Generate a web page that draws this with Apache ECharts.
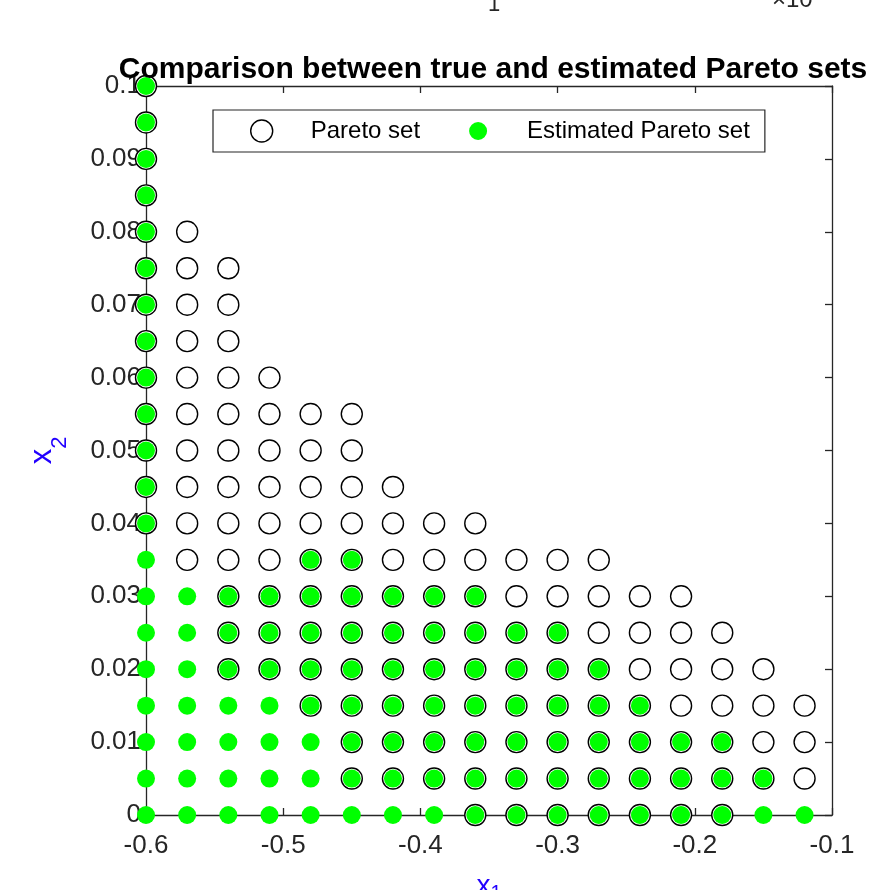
<!DOCTYPE html>
<html>
<head>
<meta charset="utf-8">
<script src="https://cdn.jsdelivr.net/npm/echarts@6/dist/echarts.min.js"></script>
<style>html,body{margin:0;padding:0;background:#fff;}#c{width:870px;height:890px;}</style>
</head>
<body>
<div id="c"></div>
<script>
// ---- data ----
const titleText = 'Comparison between true and estimated Pareto sets';
const seriesNames = ['Pareto set', 'Estimated Pareto set'];
// rows: [x2 value, list of x1 values]
const paretoRows = [
  [0.100, [-0.60]],
  [0.095, [-0.60]],
  [0.090, [-0.60]],
  [0.085, [-0.60]],
  [0.080, [-0.60, -0.57]],
  [0.075, [-0.60, -0.57, -0.54]],
  [0.070, [-0.60, -0.57, -0.54]],
  [0.065, [-0.60, -0.57, -0.54]],
  [0.060, [-0.60, -0.57, -0.54, -0.51]],
  [0.055, [-0.60, -0.57, -0.54, -0.51, -0.48, -0.45]],
  [0.050, [-0.60, -0.57, -0.54, -0.51, -0.48, -0.45]],
  [0.045, [-0.60, -0.57, -0.54, -0.51, -0.48, -0.45, -0.42]],
  [0.040, [-0.60, -0.57, -0.54, -0.51, -0.48, -0.45, -0.42, -0.39, -0.36]],
  [0.035, [-0.57, -0.54, -0.51, -0.48, -0.45, -0.42, -0.39, -0.36, -0.33, -0.30, -0.27]],
  [0.030, [-0.54, -0.51, -0.48, -0.45, -0.42, -0.39, -0.36, -0.33, -0.30, -0.27, -0.24, -0.21]],
  [0.025, [-0.54, -0.51, -0.48, -0.45, -0.42, -0.39, -0.36, -0.33, -0.30, -0.27, -0.24, -0.21, -0.18]],
  [0.020, [-0.54, -0.51, -0.48, -0.45, -0.42, -0.39, -0.36, -0.33, -0.30, -0.27, -0.24, -0.21, -0.18, -0.15]],
  [0.015, [-0.48, -0.45, -0.42, -0.39, -0.36, -0.33, -0.30, -0.27, -0.24, -0.21, -0.18, -0.15, -0.12]],
  [0.010, [-0.45, -0.42, -0.39, -0.36, -0.33, -0.30, -0.27, -0.24, -0.21, -0.18, -0.15, -0.12]],
  [0.005, [-0.45, -0.42, -0.39, -0.36, -0.33, -0.30, -0.27, -0.24, -0.21, -0.18, -0.15, -0.12]],
  [0.000, [-0.36, -0.33, -0.30, -0.27, -0.24, -0.21, -0.18]]
];
const estimatedRows = [
  [0.100, [-0.60]],
  [0.095, [-0.60]],
  [0.090, [-0.60]],
  [0.085, [-0.60]],
  [0.080, [-0.60]],
  [0.075, [-0.60]],
  [0.070, [-0.60]],
  [0.065, [-0.60]],
  [0.060, [-0.60]],
  [0.055, [-0.60]],
  [0.050, [-0.60]],
  [0.045, [-0.60]],
  [0.040, [-0.60]],
  [0.035, [-0.60, -0.48, -0.45]],
  [0.030, [-0.60, -0.57, -0.54, -0.51, -0.48, -0.45, -0.42, -0.39, -0.36]],
  [0.025, [-0.60, -0.57, -0.54, -0.51, -0.48, -0.45, -0.42, -0.39, -0.36, -0.33, -0.30]],
  [0.020, [-0.60, -0.57, -0.54, -0.51, -0.48, -0.45, -0.42, -0.39, -0.36, -0.33, -0.30, -0.27]],
  [0.015, [-0.60, -0.57, -0.54, -0.51, -0.48, -0.45, -0.42, -0.39, -0.36, -0.33, -0.30, -0.27, -0.24]],
  [0.010, [-0.60, -0.57, -0.54, -0.51, -0.48, -0.45, -0.42, -0.39, -0.36, -0.33, -0.30, -0.27, -0.24, -0.21, -0.18]],
  [0.005, [-0.60, -0.57, -0.54, -0.51, -0.48, -0.45, -0.42, -0.39, -0.36, -0.33, -0.30, -0.27, -0.24, -0.21, -0.18, -0.15]],
  [0.000, [-0.60, -0.57, -0.54, -0.51, -0.48, -0.45, -0.42, -0.39, -0.36, -0.33, -0.30, -0.27, -0.24, -0.21, -0.18, -0.15, -0.12]]
];
const xRange = [-0.6, -0.1];
const xStep = 0.1;
const yRange = [0, 0.1];
const yStep = 0.01;

// ---- build ----
function flatten(rows) {
  const out = [];
  rows.forEach(([y, xs]) => xs.forEach(x => out.push([x, y])));
  return out;
}
const FONT = '"Liberation Sans", Arial, Helvetica, sans-serif';
const TXT = '#262626';
const BLUE = '#2200ff';
const chart = echarts.init(document.getElementById('c'), null, {renderer: 'canvas'});

const axisCommon = {
  axisLine: {show: true, onZero: false, lineStyle: {color: TXT, width: 1.3}},
  axisTick: {show: true, inside: true, length: 7, lineStyle: {color: TXT, width: 1.3}},
  splitLine: {show: false}
};

const option = {
  backgroundColor: '#fff',
  animation: false,
  title: {
    text: titleText,
    left: 488, top: 50, textAlign: 'center',
    textStyle: {fontFamily: FONT, fontSize: 30, fontWeight: 'bold', color: '#000'}
  },
  legend: {
    left: 213, top: 110,
    orient: 'horizontal',
    padding: [8, 15, 8, 37],
    itemGap: 45,
    itemWidth: 88, itemHeight: 22,
    borderColor: '#262626', borderWidth: 1.2,
    backgroundColor: '#fff',
    textStyle: {fontFamily: FONT, fontSize: 24, color: '#000'},
    data: [
      {name: seriesNames[0], icon: 'circle', itemStyle: {color: '#fff', borderColor: '#000', borderWidth: 1.4}},
      {name: seriesNames[1], icon: 'circle', itemStyle: {color: '#00ff00', borderColor: '#fff', borderWidth: 4}}
    ]
  },
  grid: {left: 146, right: 38, top: 86, bottom: 75, containLabel: false, outerBoundsMode: 'none'},
  xAxis: [
    Object.assign({
      type: 'value', min: xRange[0], max: xRange[1], interval: xStep, position: 'bottom',
      axisLabel: {show: true, margin: 18, color: TXT, fontFamily: FONT, fontSize: 26,
        formatter: v => String(+v.toFixed(1))},
      name: '{a|x}{b|1}', nameLocation: 'middle', nameGap: 54,
      nameTextStyle: {rich: {
        a: {fontFamily: FONT, fontSize: 28, color: BLUE},
        b: {fontFamily: FONT, fontSize: 20, color: BLUE, padding: [14, 0, 0, 0]}
      }}
    }, axisCommon),
    Object.assign({
      type: 'value', min: xRange[0], max: xRange[1], interval: xStep, position: 'top',
      axisLabel: {show: false}
    }, axisCommon)
  ],
  yAxis: [
    Object.assign({
      type: 'value', min: yRange[0], max: yRange[1], interval: yStep, position: 'left',
      axisLabel: {show: true, margin: 5, color: TXT, fontFamily: FONT, fontSize: 26,
        formatter: v => String(+v.toFixed(2))},
      name: '{a|x}{b|2}', nameLocation: 'middle', nameGap: 75, nameRotate: 90,
      nameTextStyle: {rich: {
        a: {fontFamily: FONT, fontSize: 31, color: BLUE, verticalAlign: 'top'},
        b: {fontFamily: FONT, fontSize: 22, color: BLUE, verticalAlign: 'top', padding: [22, 0, 0, 0]}
      }}
    }, axisCommon),
    Object.assign({
      type: 'value', min: yRange[0], max: yRange[1], interval: yStep, position: 'right',
      axisLabel: {show: false}
    }, axisCommon)
  ],
  graphic: [
    {type: 'text', left: 488, top: -6, style: {text: '1', font: '22px ' + FONT, fill: TXT}},
    {type: 'text', left: 772, top: -12, style: {text: '\u00d710', font: '24px ' + FONT, fill: TXT}}
  ],
  series: [
    {
      name: seriesNames[0], type: 'scatter', xAxisIndex: 0, yAxisIndex: 0,
      symbol: 'circle', symbolSize: 21,
      itemStyle: {color: '#fff', borderColor: '#000', borderWidth: 1.4, opacity: 1},
      emphasis: {disabled: true},
      data: flatten(paretoRows), z: 2
    },
    {
      name: seriesNames[1], type: 'scatter', xAxisIndex: 0, yAxisIndex: 0,
      symbol: 'circle', symbolSize: 18,
      itemStyle: {color: '#00ff00', opacity: 1},
      emphasis: {disabled: true},
      data: flatten(estimatedRows), z: 3
    }
  ]
};
chart.setOption(option);
</script>
</body>
</html>
